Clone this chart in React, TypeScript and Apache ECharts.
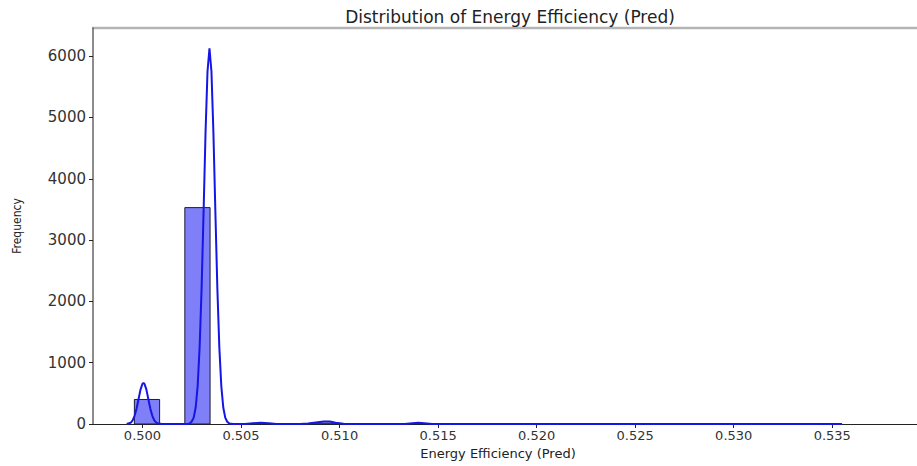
import React, { useEffect, useRef } from "react";
import * as echarts from "echarts";

// Histogram bins: [left edge, right edge, count]
const histBins: [number, number, number][] = [
  [0.49959, 0.50087, 400],
  [0.50087, 0.50215, 0],
  [0.50215, 0.50343, 3530],
  [0.50599, 0.50727, 5],
  [0.50855, 0.50983, 15],
  [0.51367, 0.51495, 5],
];

// KDE curve: [x, density-scaled count]
const kdePoints: [number, number][] = [
  [0.4992, 0], [0.4994, 20], [0.4995, 60], [0.4996, 133], [0.4997, 250],
  [0.4998, 405], [0.4999, 560], [0.5, 657], [0.50005, 670], [0.5001, 657],
  [0.5002, 560], [0.5003, 405], [0.5004, 250], [0.5005, 133], [0.5006, 60],
  [0.5007, 23], [0.5008, 7], [0.501, 0], [0.5023, 0], [0.5024, 10],
  [0.5025, 40], [0.5026, 104], [0.5027, 269], [0.5028, 619], [0.5029, 1250],
  [0.503, 2210], [0.5031, 3450], [0.5032, 4750], [0.5033, 5750], [0.5034, 6130],
  [0.5035, 5750], [0.5036, 4750], [0.5037, 3450], [0.5038, 2210], [0.5039, 1250],
  [0.504, 619], [0.5041, 269], [0.5042, 104], [0.5043, 36], [0.5044, 10],
  [0.5046, 0], [0.5052, 0], [0.5056, 12], [0.506, 22], [0.5064, 12],
  [0.5068, 0], [0.508, 0], [0.5084, 8], [0.5088, 25], [0.5092, 42],
  [0.5095, 40], [0.5098, 20], [0.5102, 4], [0.5105, 0], [0.5133, 0],
  [0.5137, 12], [0.514, 20], [0.5143, 12], [0.5147, 0], [0.5355, 0],
];

const xTicks = [0.5, 0.505, 0.51, 0.515, 0.52, 0.525, 0.53, 0.535];
const yTicks = [0, 1000, 2000, 3000, 4000, 5000, 6000];

const title = "Distribution of Energy Efficiency (Pred)";
const xName = "Energy Efficiency (Pred)";
const yName = "Frequency";

export default function App() {
  const ref = useRef<HTMLDivElement>(null);
  useEffect(() => {
    if (!ref.current) return;
    const chart = echarts.init(ref.current, null, { renderer: "svg" });
    const font = "DejaVu Sans";
    const xMin = 0.49749;
    const xMax = 0.5393;
    chart.setOption({
      animation: false,
      title: {
        text: title,
        left: 505,
        textAlign: "center",
        top: 3,
        textStyle: { fontFamily: font, fontSize: 17, fontWeight: "normal", color: "#222" },
      },
      graphic: [
        {
          type: "line",
          shape: { x1: 92, y1: 28, x2: 917, y2: 28 },
          style: { stroke: "#b4b4b4", lineWidth: 2.5 },
          silent: true,
        },
      ],
      grid: { left: 93, right: 0, top: 28, bottom: 42, containLabel: false },
      xAxis: {
        type: "value",
        min: xMin,
        max: xMax,
        name: xName,
        nameLocation: "middle",
        nameGap: 23,
        nameTextStyle: { fontFamily: font, fontSize: 13, color: "#222", padding: [0, 14, 0, 0] },
        axisLine: { show: true, onZero: false, lineStyle: { color: "#222", width: 1 } },
        axisTick: { show: true, customValues: xTicks, length: 4, lineStyle: { color: "#222" } },
        axisLabel: {
          customValues: xTicks,
          formatter: (v: number) => v.toFixed(3),
          fontFamily: font,
          fontSize: 13,
          color: "#333",
          margin: 5,
        },
        splitLine: { show: false },
      },
      yAxis: {
        type: "value",
        min: 0,
        max: 6460,
        interval: 1000,
        name: yName,
        nameLocation: "middle",
        nameGap: 70,
        nameTextStyle: { fontFamily: "Liberation Sans Narrow, DejaVu Sans Condensed", fontSize: 12, color: "#222" },
        axisLine: { show: true, lineStyle: { color: "#666", width: 1.5 } },
        axisTick: { show: true, customValues: yTicks, length: 4, lineStyle: { color: "#222" } },
        axisLabel: {
          customValues: yTicks,
          formatter: (v: number) => String(v),
          fontFamily: font,
          fontSize: 15,
          color: "#333",
          margin: 7,
        },
        splitLine: { show: false },
      },
      series: [
        {
          type: "custom",
          encode: { x: [0, 1], y: 2 },
          data: histBins,
          renderItem: (params: any, api: any) => {
            const p0 = api.coord([api.value(0), 0]);
            const p1 = api.coord([api.value(1), api.value(2)]);
            return {
              type: "rect",
              shape: { x: p0[0], y: p1[1], width: p1[0] - p0[0], height: p0[1] - p1[1] },
              style: { fill: "rgba(10,10,240,0.52)", stroke: "#1c1c3a", lineWidth: 1 },
            };
          },
          z: 2,
        },
        {
          type: "line",
          data: kdePoints,
          showSymbol: false,
          smooth: false,
          lineStyle: { color: "#1515e6", width: 2 },
          z: 3,
        },
      ],
    });
    return () => chart.dispose();
  }, []);
  return (
    <div
      ref={ref}
      style={{ position: "fixed", left: 0, top: 0, width: 917, height: 466, background: "#fff" }}
    />
  );
}
